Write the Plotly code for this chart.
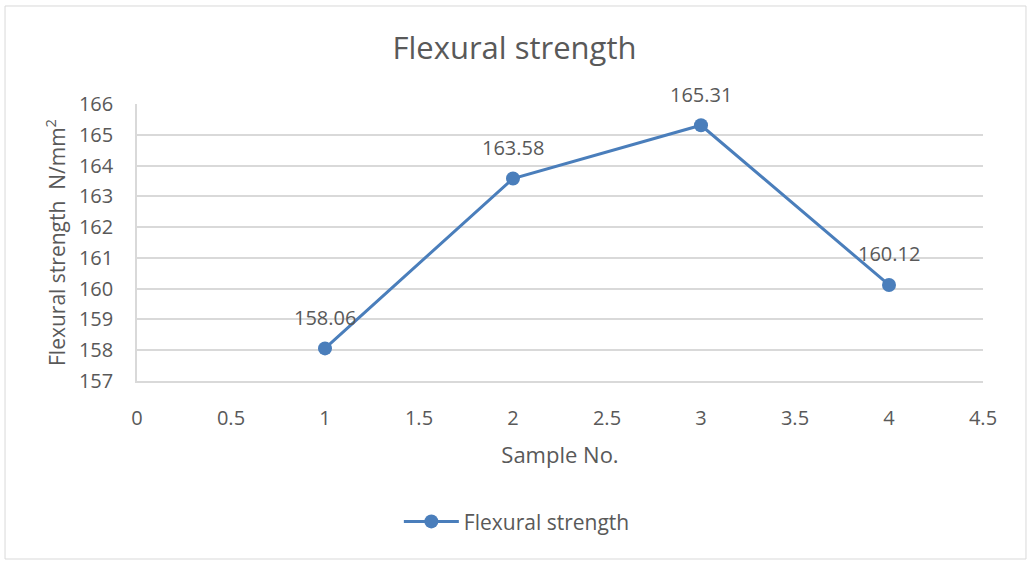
import plotly.graph_objects as go

samples = [1, 2, 3, 4]
strength = [158.06, 163.58, 165.31, 160.12]
labels = ["158.06", "163.58", "165.31", "160.12"]
x_ticks = [0, 0.5, 1, 1.5, 2, 2.5, 3, 3.5, 4, 4.5]
x_tick_text = ["0", "0.5", "1", "1.5", "2", "2.5", "3", "3.5", "4", "4.5"]
y_ticks = list(range(157, 167))

FONT = "Open Sans"
TXT = "#595959"
BLUE = "#4a7ebb"

fig = go.Figure()
fig.add_trace(go.Scatter(
    x=samples, y=strength, mode="lines+markers", name="Flexural strength",
    line=dict(color=BLUE, width=3), marker=dict(size=14, color=BLUE),
))

for xv, yv, t in zip(samples, strength, labels):
    fig.add_annotation(x=xv, y=yv, text=t, showarrow=False, yshift=31,
                       font=dict(family=FONT, size=20, color=TXT))

fig.update_layout(
    width=1029, height=561,
    margin=dict(l=137, r=46, t=104, b=180),
    paper_bgcolor="white", plot_bgcolor="white",
    title=dict(text="Flexural strength", x=0.5, xanchor="center", y=0.914, yanchor="middle",
               font=dict(family=FONT, size=31, color=TXT)),
    showlegend=True,
    legend=dict(orientation="h", x=0.449, xanchor="center", xref="paper", yref="container",
                y=0.07, yanchor="middle", font=dict(family=FONT, size=21, color=TXT),
                itemwidth=55),
    font=dict(family=FONT, color=TXT),
    shapes=[dict(type="rect", xref="paper", yref="paper", x0=-0.156, x1=1.0508, y0=-0.6426, y1=1.3538,
                 line=dict(color="#d9d9d9", width=1), layer="below")],
)

fig.update_xaxes(range=[0, 4.5], tickvals=x_ticks, ticktext=x_tick_text, showgrid=False,
                 zeroline=False, showline=True, linecolor="#d9d9d9", linewidth=1.5,
                 ticks="", ticklabelstandoff=18,
                 tickfont=dict(family=FONT, size=20, color=TXT),
                 title=dict(text="Sample No.", font=dict(family=FONT, size=22, color=TXT), standoff=18))
fig.update_yaxes(range=[157, 166], tickvals=y_ticks, showgrid=True, gridcolor="#d9d9d9", gridwidth=1.5,
                 zeroline=False, showline=True, linecolor="#d9d9d9", linewidth=1.5, ticks="",
                 ticklabelstandoff=18,
                 tickfont=dict(family=FONT, size=20, color=TXT),
                 title=dict(text="Flexural strength  N/mm<sup>2</sup>",
                            font=dict(family=FONT, size=21, color=TXT), standoff=8))

fig.write_html("out.html", config={"displayModeBar": False},
               post_script="document.body.style.margin='0px';")
